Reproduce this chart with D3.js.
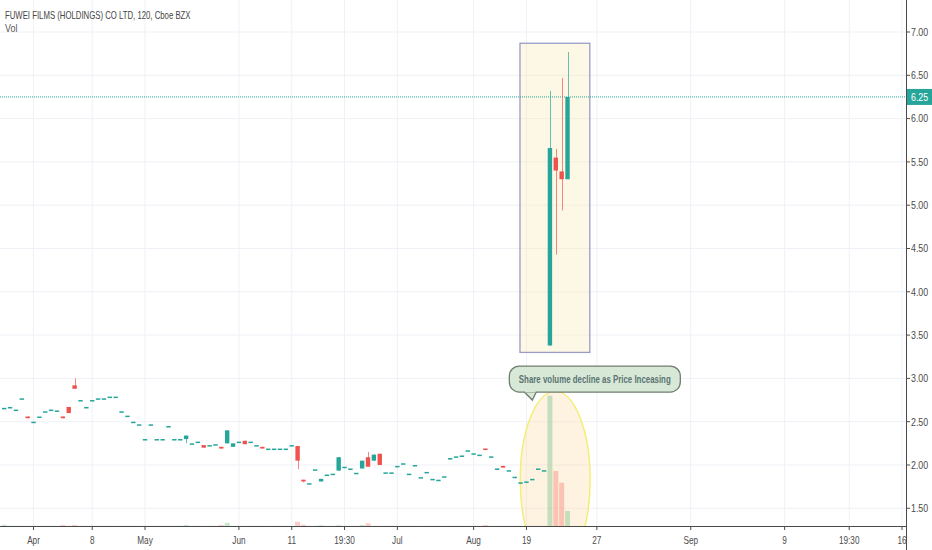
<!DOCTYPE html>
<html>
<head>
<meta charset="utf-8">
<script src="https://cdnjs.cloudflare.com/ajax/libs/d3/7.8.5/d3.min.js"></script>
<style>
  body { margin: 0; background: #fff; }
  svg { display: block; }
  text { font-family: "Liberation Sans", Arial, sans-serif; }
  .grid line { stroke: #eff1f6; stroke-width: 1px; }
  .axis text { fill: #4a4a4a; font-size: 10.5px; }
  .axis line { stroke: #4a4a4a; }
  .note { fill: #5a7474; font-size: 10.5px; font-weight: bold; }
</style>
</head>
<body>
<svg id="chart" width="932" height="550"></svg>
<script>
// bars are one slot apart, slot 0 is the first bar on screen
const opens  = [2.66,2.67,2.64,2.77,2.56,2.50,2.56,2.62,2.64,2.63,2.56,2.67,2.92,2.75,2.67,2.75,2.77,2.77,2.79,2.79,
                2.62,2.57,2.50,2.47,2.30,2.47,2.30,2.30,2.45,2.30,2.30,2.30,2.25,2.27,2.23,2.23,2.24,2.21,2.25,2.21,
                2.27,2.28,2.27,2.23,2.21,2.19,2.19,2.19,2.19,2.23,2.22,1.83,1.79,1.95,1.81,1.89,1.90,1.935,1.98,1.96,
                1.91,1.96,2.09,2.05,2.13,1.915,1.915,1.99,2.02,1.90,2.00,1.86,1.92,1.84,1.83,1.87,2.065,2.10,2.11,2.17,
                2.135,2.12,2.19,2.10,1.945,1.99,1.94,1.865,1.80,1.81,1.84,1.96,1.94,3.38,5.55,5.39,5.30];
const highs  = [2.66,2.67,2.64,2.77,2.56,2.50,2.56,2.62,2.64,2.63,2.56,2.67,3.00,2.75,2.67,2.75,2.77,2.77,2.79,2.79,
                2.62,2.57,2.50,2.47,2.30,2.47,2.30,2.30,2.45,2.30,2.30,2.34,2.25,2.27,2.23,2.23,2.24,2.21,2.40,2.25,
                2.27,2.28,2.27,2.23,2.21,2.19,2.19,2.19,2.19,2.23,2.22,1.83,1.79,1.95,1.84,1.89,1.90,2.09,1.98,1.96,
                1.91,2.05,2.15,2.12,2.13,1.915,1.915,1.99,2.02,1.90,2.00,1.86,1.92,1.84,1.83,1.87,2.08,2.10,2.11,2.17,
                2.135,2.12,2.19,2.10,1.96,1.99,1.94,1.865,1.80,1.81,1.84,1.96,1.94,6.32,5.65,6.47,6.77];
const lows   = [2.66,2.67,2.64,2.77,2.54,2.50,2.56,2.62,2.64,2.63,2.54,2.60,2.88,2.75,2.67,2.75,2.77,2.77,2.79,2.79,
                2.62,2.57,2.50,2.47,2.30,2.47,2.30,2.30,2.45,2.30,2.30,2.25,2.25,2.27,2.20,2.23,2.24,2.19,2.25,2.21,
                2.27,2.24,2.27,2.23,2.19,2.19,2.19,2.19,2.19,2.23,1.95,1.80,1.79,1.95,1.81,1.89,1.90,1.935,1.98,1.96,
                1.91,1.96,1.98,2.05,2.00,1.915,1.915,1.99,2.02,1.90,2.00,1.86,1.92,1.84,1.83,1.87,2.065,2.10,2.11,2.17,
                2.135,2.12,2.175,2.10,1.945,1.97,1.94,1.865,1.80,1.81,1.84,1.96,1.94,3.38,4.43,4.94,5.30];
const closes = [2.66,2.67,2.64,2.77,2.54,2.50,2.56,2.62,2.64,2.63,2.54,2.60,2.88,2.75,2.67,2.75,2.77,2.77,2.79,2.79,
                2.62,2.57,2.50,2.47,2.30,2.47,2.30,2.30,2.45,2.30,2.30,2.34,2.25,2.27,2.20,2.23,2.24,2.19,2.40,2.25,
                2.27,2.24,2.27,2.23,2.19,2.19,2.19,2.19,2.19,2.23,2.05,1.81,1.79,1.95,1.84,1.89,1.90,2.09,1.98,1.96,
                1.91,2.05,1.98,2.12,2.00,1.915,1.915,1.99,2.02,1.90,2.00,1.86,1.92,1.84,1.83,1.87,2.08,2.10,2.11,2.17,
                2.135,2.12,2.175,2.10,1.96,1.97,1.94,1.865,1.80,1.81,1.84,1.96,1.94,5.66,5.40,5.30,6.25];
// volume in thousands of shares
const volumes = [12,2,2,2,2,2,2,2,2,2,10,2,10,2,2,2,2,2,2,2,
                 2,2,2,2,2,2,2,2,2,2,2,10,2,2,2,2,2,10,30,2,
                 2,2,2,2,2,2,2,2,2,2,40,12,2,2,8,2,2,8,2,2,
                 2,10,25,2,2,2,2,2,2,2,2,2,2,2,2,2,2,2,2,2,
                 2,2,10,2,2,2,2,2,2,2,2,2,2,1230,520,408,142];

const xTickSlots  = [5, 15, 24, 40, 49, 58, 67, 80, 89, 101, 117, 133, 144, 153];
const xTickLabels = ["Apr", "8", "May", "Jun", "11", "19:30", "Jul", "Aug", "19", "27", "Sep", "9", "19:30", "16"];
const yTicks = [1.5, 2, 2.5, 3, 3.5, 4, 4.5, 5, 5.5, 6, 6.5, 7];
const lastPrice = 6.25;

const title = "FUWEI FILMS (HOLDINGS) CO LTD, 120, Cboe BZX";
const noteText = "Share volume decline as Price Inceasing";
// drawings, anchored on slot / price like the platform does
const boxSlots = [87.9, 99.8], boxPrices = [3.30, 6.87];
const ellipseCenter = [93.9, 1.83], ellipseRadius = [5.96, 1.02];
const noteTip = [90.0, 2.75];

const W = 932, H = 550, plotW = 906, plotH = 526;
const upColor = "#26a69a", downColor = "#ef5350";

const bars = opens.map((o, i) => ({
  slot: i, o, h: highs[i], l: lows[i], c: closes[i], v: volumes[i]
}));

const x = d3.scaleLinear().domain([0, 153]).range([4.2, 902]);
const y = d3.scaleLinear().domain([1.5, 7]).range([508.3, 32]);
const yVol = d3.scaleLinear().domain([0, 1230]).range([plotH, 395.7]);

// no narrow face installed, so squeeze the glyphs instead
function squeeze(sel, k) {
  sel.each(function() {
    const len = this.getComputedTextLength();
    d3.select(this).attr("textLength", len * k).attr("lengthAdjust", "spacingAndGlyphs");
  });
}

const svg = d3.select("#chart");
svg.append("clipPath").attr("id", "plot")
  .append("rect").attr("width", plotW).attr("height", plotH);

// grid
const grid = svg.append("g").attr("class", "grid");
grid.selectAll(".gx").data(xTickSlots).join("line")
  .attr("x1", d => x(d)).attr("x2", d => x(d)).attr("y1", 0).attr("y2", plotH);
grid.selectAll(".gy").data(yTicks).join("line")
  .attr("x1", 0).attr("x2", plotW).attr("y1", d => y(d)).attr("y2", d => y(d));

const plot = svg.append("g").attr("clip-path", "url(#plot)");

// rectangle drawing around the spike
plot.append("rect")
  .attr("x", x(boxSlots[0])).attr("width", x(boxSlots[1]) - x(boxSlots[0]))
  .attr("y", y(boxPrices[1])).attr("height", y(boxPrices[0]) - y(boxPrices[1]))
  .attr("fill", "rgba(250,235,180,0.35)")
  .attr("stroke", "#9a9cc6").attr("stroke-width", 1.3);

// ellipse drawing around the volume
plot.append("ellipse")
  .attr("cx", x(ellipseCenter[0])).attr("cy", y(ellipseCenter[1]))
  .attr("rx", x(ellipseCenter[0] + ellipseRadius[0]) - x(ellipseCenter[0]))
  .attr("ry", y(ellipseCenter[1] - ellipseRadius[1]) - y(ellipseCenter[1]))
  .attr("fill", "rgba(253,222,180,0.4)")
  .attr("stroke", "#f2ee70").attr("stroke-width", 1.4);

// volume
plot.selectAll(".vol").data(bars).join("rect")
  .attr("x", d => x(d.slot) - 2.5).attr("width", 5)
  .attr("y", d => yVol(d.v)).attr("height", d => plotH - yVol(d.v))
  .attr("fill", d => d.c >= d.o ? "rgba(96,185,120,0.35)" : "rgba(245,110,95,0.35)");

// last price line
plot.append("line")
  .attr("x1", 0).attr("x2", plotW).attr("y1", y(lastPrice)).attr("y2", y(lastPrice))
  .attr("stroke", upColor).attr("stroke-width", 1).attr("stroke-dasharray", "1,1");

// candles
const candle = plot.selectAll(".candle").data(bars).join("g")
  .attr("fill", d => d.c >= d.o ? upColor : downColor)
  .attr("stroke", d => d.c >= d.o ? upColor : downColor);
candle.append("line")
  .attr("x1", d => Math.round(x(d.slot)) + 0.5).attr("x2", d => Math.round(x(d.slot)) + 0.5)
  .attr("y1", d => y(d.h)).attr("y2", d => y(d.l))
  .attr("stroke-width", 1).attr("stroke-opacity", 0.7);
candle.append("rect")
  .attr("x", d => x(d.slot) - 2.2).attr("width", 4.4)
  .attr("y", d => y(Math.max(d.o, d.c)))
  .attr("height", d => Math.max(1.5, Math.abs(y(d.o) - y(d.c))))
  .attr("stroke", "none");

// callout
const tipX = x(noteTip[0]), tipY = y(noteTip[1]);
const note = svg.append("g");
note.append("path")
  .attr("d", `M${tipX - 8},${tipY - 8} L${tipX},${tipY} L${tipX + 4},${tipY - 8}`)
  .attr("fill", "#d8e8d6").attr("stroke", "#707c70").attr("stroke-width", 1.3);
note.append("rect")
  .attr("x", tipX - 23).attr("y", tipY - 34).attr("width", 171).attr("height", 26)
  .attr("rx", 10).attr("fill", "#d8e8d6").attr("stroke", "#707c70").attr("stroke-width", 1.3);
note.append("path")
  .attr("d", `M${tipX - 7.3},${tipY - 8.6} L${tipX + 3.3},${tipY - 8.6}`)
  .attr("stroke", "#d8e8d6").attr("stroke-width", 2);
note.append("text").attr("class", "note")
  .attr("x", tipX + 62.5).attr("y", tipY - 17.5).attr("text-anchor", "middle")
  .text(noteText)
  .call(squeeze, 0.75);

// axes
const xAxis = svg.append("g").attr("class", "axis");
xAxis.append("line").attr("x1", 0).attr("x2", plotW).attr("y1", plotH + 0.5).attr("y2", plotH + 0.5);
xAxis.selectAll(".tk").data(xTickSlots).join("line")
  .attr("x1", d => x(d)).attr("x2", d => x(d)).attr("y1", plotH).attr("y2", plotH + 4);
xAxis.selectAll("text").data(xTickSlots).join("text")
  .attr("x", d => x(d)).attr("y", 544).attr("text-anchor", "middle")
  .text((d, i) => xTickLabels[i])
  .call(squeeze, 0.78);

const yAxis = svg.append("g").attr("class", "axis");
yAxis.append("line").attr("x1", plotW + 0.5).attr("x2", plotW + 0.5).attr("y1", 0).attr("y2", H);
yAxis.selectAll(".tk").data(yTicks).join("line")
  .attr("x1", plotW).attr("x2", plotW + 4).attr("y1", d => y(d)).attr("y2", d => y(d));
yAxis.selectAll("text").data(yTicks).join("text")
  .attr("x", 911).attr("y", d => y(d) + 3.8)
  .text(d => d3.format(".2f")(d))
  .call(squeeze, 0.84);

// last price label
yAxis.append("rect").attr("x", plotW + 1).attr("y", y(lastPrice) - 8)
  .attr("width", W - plotW).attr("height", 16).attr("fill", upColor);
yAxis.append("text").attr("x", 911).attr("y", y(lastPrice) + 3.8)
  .style("fill", "#fff").text(d3.format(".2f")(lastPrice))
  .call(squeeze, 0.84);

// legend
svg.append("text").attr("x", 5).attr("y", 18.5).attr("fill", "#444").attr("font-size", 10.5)
  .text(title).call(squeeze, 0.74);
svg.append("text").attr("x", 5).attr("y", 32).attr("fill", "#555").attr("font-size", 10.5)
  .text("Vol").call(squeeze, 0.85);
</script>
</body>
</html>
